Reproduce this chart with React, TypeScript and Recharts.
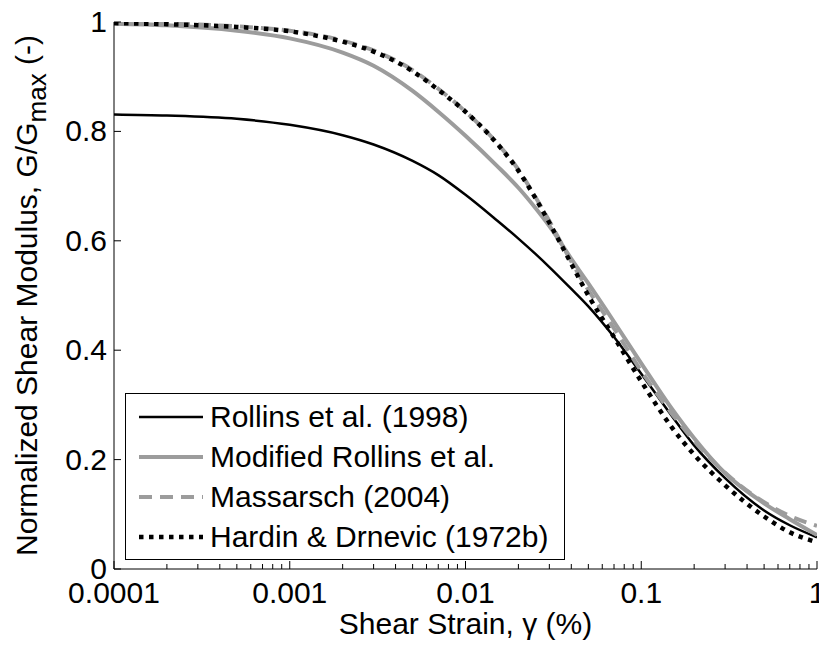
import { Label, Legend, Line, LineChart, XAxis, YAxis } from "recharts";

// shear strain (%) where the curves were read
const STRAIN = [
  0.0001, 0.0002, 0.0005, 0.001, 0.002, 0.003, 0.005, 0.007, 0.01, 0.015, 0.02,
  0.025, 0.03, 0.04, 0.05, 0.07, 0.1, 0.15, 0.2, 0.3, 0.5, 0.7, 1,
];
const ROLLINS = [
  0.831, 0.829, 0.823, 0.812, 0.793, 0.776, 0.746, 0.72, 0.684, 0.638, 0.604,
  0.576, 0.552, 0.512, 0.48, 0.424, 0.357, 0.279, 0.226, 0.166, 0.107, 0.08, 0.058,
];
const MODIFIED = [
  0.997, 0.994, 0.984, 0.97, 0.944, 0.92, 0.874, 0.836, 0.792, 0.738, 0.697,
  0.66, 0.627, 0.567, 0.522, 0.452, 0.376, 0.292, 0.239, 0.175, 0.12, 0.091, 0.062,
];
const MASSARSCH = [
  0.999, 0.997, 0.992, 0.984, 0.966, 0.948, 0.912, 0.878, 0.836, 0.78, 0.73,
  0.68, 0.636, 0.562, 0.51, 0.44, 0.362, 0.283, 0.234, 0.176, 0.122, 0.097, 0.079,
];
const HARDIN = [
  0.998, 0.996, 0.991, 0.983, 0.964, 0.946, 0.91, 0.876, 0.836, 0.779, 0.728,
  0.678, 0.633, 0.558, 0.5, 0.424, 0.343, 0.258, 0.209, 0.153, 0.096, 0.067, 0.049,
];

const X_MAJOR = [0.0001, 0.001, 0.01, 0.1, 1];
const Y_TICKS = [0, 0.2, 0.4, 0.6, 0.8, 1];
const X_TICKS = [
  ...X_MAJOR,
  ...X_MAJOR.slice(0, -1).flatMap((d) => [2, 3, 4, 5, 6, 7, 8, 9].map((m) => m * d)),
];

const SERIES = [
  { key: "rollins", name: "Rollins et al. (1998)", color: "#000000", width: 2.5, dash: undefined },
  { key: "modified", name: "Modified Rollins et al.", color: "#9c9c9c", width: 4, dash: undefined },
  { key: "massarsch", name: "Massarsch (2004)", color: "#9c9c9c", width: 4, dash: "13 8" },
  { key: "hardin", name: "Hardin & Drnevic (1972b)", color: "#000000", width: 4.5, dash: "4.5 5.5" },
];

const data = STRAIN.map((x, i) => ({
  x,
  rollins: ROLLINS[i],
  modified: MODIFIED[i],
  massarsch: MASSARSCH[i],
  hardin: HARDIN[i],
}));

const FONT = 30;

function BottomTick({ x, y, payload }: any) {
  const major = X_MAJOR.includes(payload.value);
  return (
    <g>
      <line x1={x} y1={y} x2={x} y2={y - (major ? 8 : 5)} stroke="#000" />
      {major && (
        <text x={x} y={y + 34} textAnchor="middle" fontSize={FONT} fill="#000">
          {String(payload.value)}
        </text>
      )}
    </g>
  );
}

function TopTick({ x, y, payload }: any) {
  const major = X_MAJOR.includes(payload.value);
  return <line x1={x} y1={y} x2={x} y2={y + (major ? 8 : 5)} stroke="#000" />;
}

function LeftTick({ x, y, payload }: any) {
  return (
    <g>
      <line x1={x} y1={y} x2={x + 7} y2={y} stroke="#000" />
      <text x={x - 7} y={y + 10} textAnchor="end" fontSize={FONT} fill="#000">
        {String(payload.value)}
      </text>
    </g>
  );
}

function RightTick({ x, y }: any) {
  return <line x1={x} y1={y} x2={x - 7} y2={y} stroke="#000" />;
}

function YTitle({ viewBox }: any) {
  const cx = 37;
  const cy = viewBox.y + viewBox.height / 2;
  return (
    <text x={cx} y={cy} transform={`rotate(-90, ${cx}, ${cy})`} textAnchor="middle" fontSize={FONT} fill="#000">
      Normalized Shear Modulus, G/G
      <tspan dy={9} fontSize={26}>max</tspan>
      <tspan dy={-9}> (-)</tspan>
    </text>
  );
}

function XTitle({ viewBox }: any) {
  return (
    <text x={viewBox.x + viewBox.width / 2} y={634} textAnchor="middle" fontSize={FONT} fill="#000">
      Shear Strain, γ (%)
    </text>
  );
}

function LegendBox() {
  return (
    <div
      style={{
        boxSizing: "border-box",
        width: 440,
        height: 167,
        border: "1px solid #000",
        background: "#fff",
        paddingTop: 3,
      }}
    >
      {SERIES.map((s) => (
        <div key={s.key} style={{ display: "flex", alignItems: "center", height: 40 }}>
          <svg width={64} height={40} style={{ marginLeft: 13, marginRight: 7 }}>
            <line x1={0} y1={20} x2={64} y2={20} stroke={s.color} strokeWidth={s.width} strokeDasharray={s.dash} />
          </svg>
          <span style={{ fontSize: FONT, lineHeight: "40px", color: "#000" }}>{s.name}</span>
        </div>
      ))}
    </div>
  );
}

export default function App() {
  return (
    <div
      style={{
        position: "absolute",
        left: 0,
        top: 0,
        width: 819,
        height: 651,
        background: "#fff",
        fontFamily: "'Liberation Sans', Arial, sans-serif",
      }}
    >
      <LineChart width={819} height={651} data={data} margin={{ top: 22, right: 2, bottom: 0, left: 0 }}>
        <XAxis
          xAxisId={0}
          dataKey="x"
          type="number"
          scale="log"
          domain={[0.0001, 1]}
          allowDataOverflow
          ticks={X_TICKS}
          interval={0}
          height={82}
          tickSize={0}
          tickMargin={0}
          tickLine={false}
          axisLine={{ stroke: "#000" }}
          tick={<BottomTick />}
        >
          <Label content={<XTitle />} />
        </XAxis>
        <XAxis
          xAxisId="top"
          orientation="top"
          dataKey="x"
          type="number"
          scale="log"
          domain={[0.0001, 1]}
          allowDataOverflow
          ticks={X_TICKS}
          interval={0}
          height={0}
          tickSize={0}
          tickMargin={0}
          tickLine={false}
          axisLine={{ stroke: "#000" }}
          tick={<TopTick />}
        />
        <YAxis
          yAxisId={0}
          type="number"
          domain={[0, 1]}
          allowDataOverflow
          ticks={Y_TICKS}
          interval={0}
          width={114}
          tickSize={0}
          tickMargin={0}
          tickLine={false}
          axisLine={{ stroke: "#000" }}
          tick={<LeftTick />}
        >
          <Label content={<YTitle />} />
        </YAxis>
        <YAxis
          yAxisId="right"
          orientation="right"
          type="number"
          domain={[0, 1]}
          allowDataOverflow
          ticks={Y_TICKS}
          interval={0}
          width={0}
          tickSize={0}
          tickMargin={0}
          tickLine={false}
          axisLine={{ stroke: "#000" }}
          tick={<RightTick />}
        />
        <Legend
          layout="vertical"
          align="center"
          verticalAlign="middle"
          content={<LegendBox />}
          wrapperStyle={{ left: 125, top: 393, width: 440, height: 167, bottom: "auto" }}
        />
        {SERIES.map((s) => (
          <Line
            key={s.key}
            dataKey={s.key}
            name={s.name}
            type="monotone"
            stroke={s.color}
            strokeWidth={s.width}
            strokeDasharray={s.dash}
            dot={false}
            activeDot={false}
            isAnimationActive={false}
          />
        ))}
      </LineChart>
    </div>
  );
}
